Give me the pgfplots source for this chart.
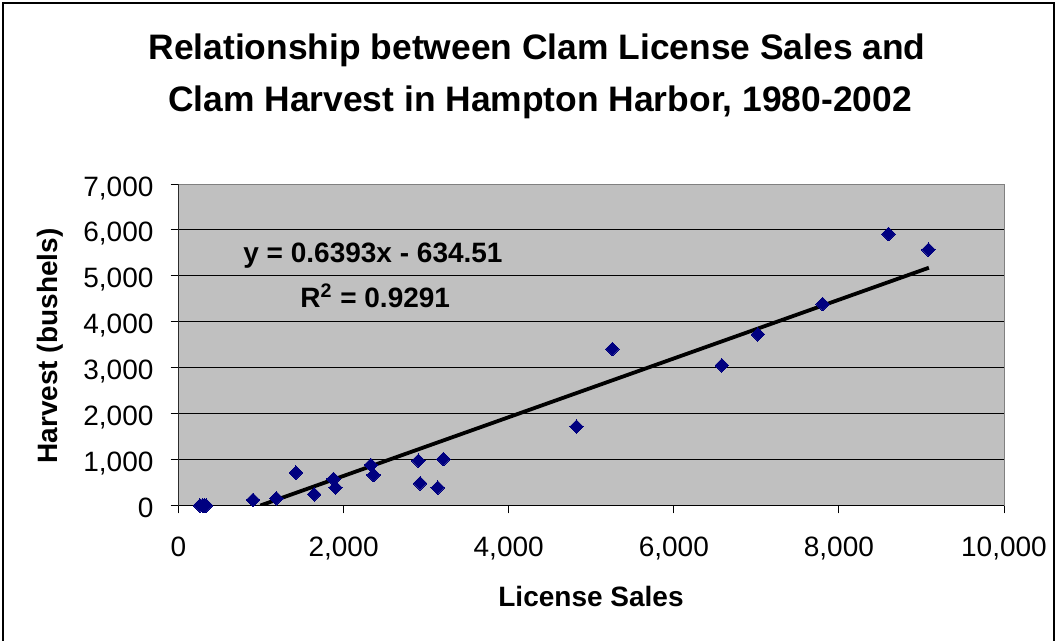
\documentclass[border=0pt]{standalone}
\usepackage{fontspec}
\setmainfont{Liberation Sans}
\usepackage{pgfplots}
\pgfplotsset{compat=1.18}
\definecolor{plotgray}{RGB}{192,192,192}
\definecolor{bordergray}{RGB}{128,128,128}
\definecolor{navy}{RGB}{0,0,128}
\newcommand\px[2]{({#1*0.5pt},{(641-#2)*0.5pt})}
\begin{document}
\begin{tikzpicture}
\path[use as bounding box] (0,0) rectangle (528.5pt,320.5pt);
\draw[line width=1pt] \px{3}{641} -- \px{3}{3} -- \px{1054}{3} -- \px{1054}{641};
\begin{axis}[
  at={(89.25pt,67.75pt)}, anchor=south west,
  scale only axis, width=412.75pt, height=160.75pt,
  xmin=0, xmax=10000, ymin=0, ymax=7000,
  xtick={0,2000,...,10000}, ytick={0,1000,...,7000},
  scaled ticks=false,
  tick pos=left, tick align=outside, major tick length=4pt,
  tick style={black, line width=0.5pt},
  ymajorgrids, grid style={black, line width=0.5pt},
  axis line style={bordergray, line width=0.5pt},
  axis background/.style={fill=plotgray},
  ticklabel style={font=\fontsize{14}{17}\selectfont, inner sep=0pt},
  xticklabel style={anchor=base, yshift=-21.5pt},
  yticklabel style={anchor=base east, xshift=-8.35pt, yshift=-6pt},
  /pgf/number format/.cd, 1000 sep={,}, assume math mode=true,
]
\draw[black, line width=0.6pt] (rel axis cs:0,1) -- (rel axis cs:0,0) -- (rel axis cs:1,0);
\addplot[black, line width=1.9pt] coordinates {(992.5,0) (9090,5176.7)};
\addplot[only marks, mark=square*, mark size=2.4pt, mark options={rotate=45, fill=navy, draw=navy, line width=0pt}] coordinates {
(260,0) (290,0) (310,0) (335,0)
(903,120) (1185,157) (1423,714) (1644,244)
(1878,577) (1902,388) (2330,882) (2362,664) (2906,975) (2926,483) (3208,1012) (3140,388)
(4821,1716) (5256,3407)
(6582,3052) (7018,3727) (7803,4387)
(8601,5911) (9085,5570)
};
\end{axis}
\node[anchor=base, inner sep=0pt, font=\fontsize{17.7}{21}\selectfont\bfseries] at \px{537}{60} {Relationship between Clam License Sales and};
\node[anchor=base, inner sep=0pt, font=\fontsize{17.7}{21}\selectfont\bfseries] at \px{540}{112} {Clam Harvest in Hampton Harbor, 1980-2002};
\node[anchor=base, inner sep=0pt, font=\fontsize{14}{17}\selectfont\bfseries] at \px{591}{607} {License Sales};
\node[rotate=90, inner sep=0pt, font=\fontsize{14}{17}\selectfont\bfseries] at \px{50}{346} {Harvest (bushels)};
\node[anchor=base west, inner sep=0pt, font=\fontsize{14}{17}\selectfont\bfseries] at \px{243}{263} {y = 0.6393x - 634.51};
\node[anchor=base west, inner sep=0pt, font=\fontsize{14}{17}\selectfont\bfseries] at \px{300}{308} {R\textsuperscript{2} = 0.9291};
\end{tikzpicture}
\end{document}
